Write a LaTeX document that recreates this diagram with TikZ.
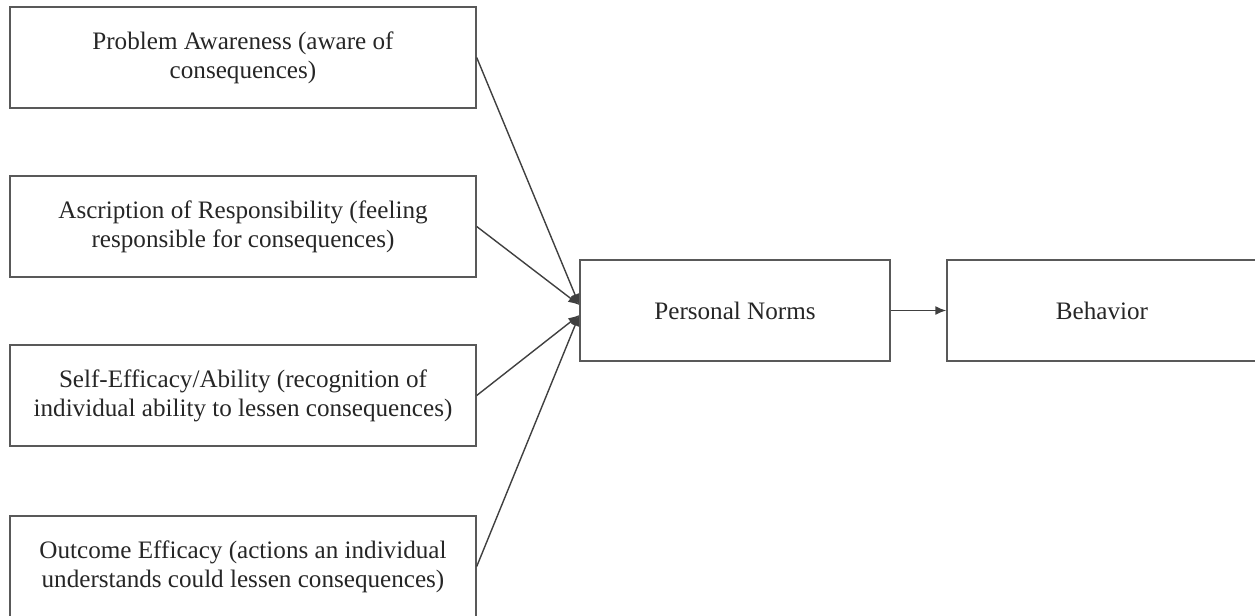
\documentclass[tikz,border=0pt]{standalone}
\usepackage{fontspec}
\setmainfont{Liberation Serif}
\usepackage{tikz}
\usetikzlibrary{arrows.meta}

\begin{document}
\begin{tikzpicture}[->,>={Latex[length=2.2mm,width=1.8mm]},node distance=3.38cm,
                    line width=0.8pt,
                    cause node/.style={rectangle,draw=black!65,minimum width=9.32cm,minimum height=2.02cm,
                      align=center,font=\fontsize{14.3}{16.5}\selectfont,text=black!85},
                    main node/.style={cause node,minimum width=6.2cm}]
  \useasboundingbox (0,0) rectangle (25.1,-12.32);

  \node[cause node] (aware) at (4.86,-1.15) {Problem Awareness (aware of\\consequences)};
  \node[cause node] (resp) [below of=aware] {Ascription of Responsibility (feeling\\responsible for consequences)};
  \node[cause node] (able) [below of=resp] {Self-Efficacy/Ability (recognition of\\individual ability to lessen consequences)};
  \node[cause node] (outc) [below of=able, node distance=3.42cm] {Outcome Efficacy (actions an individual\\understands could lessen consequences)};
  \node[main node] (norms) at (14.7,-6.21) {Personal Norms};
  \node[main node] (behav) [right of=norms, node distance=7.34cm] {Behavior};

  \coordinate (upper) at ([yshift=1.1mm]norms.west);
  \coordinate (lower) at ([yshift=-0.9mm]norms.west);

  \path[every edge/.append style={draw=black!75}]
    (aware.east) edge (upper)
    (resp.east)  edge (upper)
    (able.east)  edge (lower)
    (outc.east)  edge (lower)
    (norms)      edge (behav);

\end{tikzpicture}
\end{document}
